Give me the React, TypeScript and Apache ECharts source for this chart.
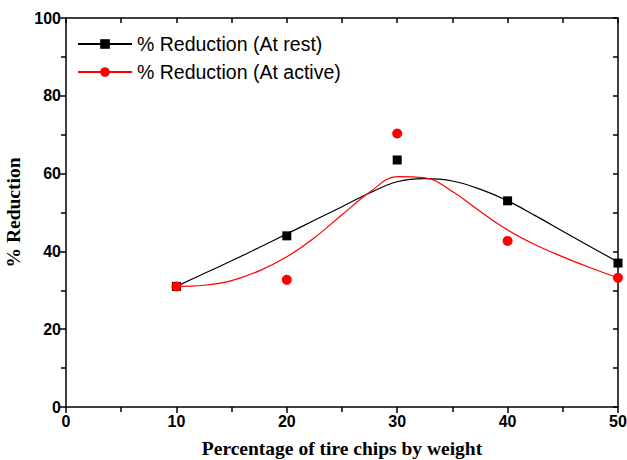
import React, { useEffect, useRef } from "react";
import * as echarts from "echarts";

const xValues = [10, 20, 30, 40, 50];
const restValues = [31, 44, 63.5, 53, 37];
const activeValues = [31, 32.7, 70.3, 42.7, 33.2];

// smooth fitted curves
const curveX = [10, 12.5, 15, 17.5, 20, 22.5, 25, 27.5, 30, 32.5, 35, 37.5, 40, 42.5, 45, 47.5, 50];
const restCurveY = [31, 34.3, 37.6, 41, 44.5, 48, 51.5, 55, 57.9, 58.7, 58.1, 56, 53, 49.2, 45.2, 41.2, 37.3];
const activeCurveY = [31, 31.3, 32.5, 35, 38.6, 43.5, 49.4, 55.2, 59.2, 58.9, 55.4, 50.3, 45.5, 41.7, 38.6, 35.8, 33.2];

const xTicks = [0, 10, 20, 30, 40, 50];
const yTicks = [0, 20, 40, 60, 80, 100];

const zip = (a: number[], b: number[]) => a.map((v, i) => [v, b[i]]);

export default function App() {
  const ref = useRef<HTMLDivElement>(null);
  useEffect(() => {
    if (!ref.current) return;
    const chart = echarts.init(ref.current, null, { renderer: "svg" });
    const axisLine = { show: true, onZero: false, lineStyle: { color: "#000", width: 1.5 } };
    const labelStyle = {
      color: "#000",
      fontFamily: "Liberation Sans, Arial, sans-serif",
      fontWeight: "bold" as const,
      fontSize: 16,
    };
    const titleStyle = {
      color: "#000",
      fontFamily: "Liberation Serif, Times New Roman, serif",
      fontWeight: "bold" as const,
      fontSize: 19.5,
    };
    chart.setOption({
      animation: false,
      backgroundColor: "#fff",
      grid: { left: 66, right: 9, top: 18, bottom: 53, containLabel: false, outerBoundsMode: "none" },
      legend: {
        left: 72,
        top: 29,
        orient: "vertical",
        itemWidth: 54,
        itemHeight: 12,
        itemGap: 8,
        data: ["% Reduction (At rest)", "% Reduction (At active)"],
        textStyle: {
          color: "#000",
          fontFamily: "Liberation Sans, Arial, sans-serif",
          fontSize: 19.5,
        },
      },
      xAxis: [
        {
          type: "value",
          min: xTicks[0],
          max: xTicks[xTicks.length - 1],
          interval: 10,
          position: "bottom",
          axisLine,
          axisTick: { show: true, inside: false, length: 6, lineStyle: { color: "#000", width: 1.5 } },
          minorTick: { show: true, splitNumber: 2, length: 5, lineStyle: { color: "#000", width: 1.5 } },
          splitLine: { show: false },
          axisLabel: { ...labelStyle, margin: 6 },
          name: "Percentage of tire chips by weight",
          nameLocation: "middle",
          nameGap: 31,
          nameTextStyle: titleStyle,
        },
        {
          type: "value",
          min: 0,
          max: 50,
          interval: 5,
          position: "top",
          axisLine,
          axisTick: { show: true, inside: true, length: 5, lineStyle: { color: "#000", width: 1.5 } },
          splitLine: { show: false },
          axisLabel: { show: false },
        },
      ],
      yAxis: [
        {
          type: "value",
          min: yTicks[0],
          max: yTicks[yTicks.length - 1],
          interval: 20,
          position: "left",
          axisLine,
          axisTick: { show: true, inside: false, length: 6, lineStyle: { color: "#000", width: 1.5 } },
          minorTick: { show: true, splitNumber: 2, length: 5, lineStyle: { color: "#000", width: 1.5 } },
          splitLine: { show: false },
          axisLabel: { ...labelStyle, margin: 5 },
          name: "% Reduction",
          nameLocation: "middle",
          nameGap: 37,
          nameTextStyle: titleStyle,
        },
        {
          type: "value",
          min: 0,
          max: 100,
          interval: 10,
          position: "right",
          axisLine,
          axisTick: { show: true, inside: true, length: 5, lineStyle: { color: "#000", width: 1.5 } },
          splitLine: { show: false },
          axisLabel: { show: false },
        },
      ],
      series: [
        {
          name: "% Reduction (At rest)",
          type: "line",
          smooth: 0.4,
          data: zip(curveX, restCurveY),
          showSymbol: false,
          symbol: "rect",
          symbolSize: 10,
          itemStyle: { color: "#000" },
          lineStyle: { color: "#000", width: 1.2 },
          z: 2,
        },
        {
          name: "% Reduction (At active)",
          type: "line",
          smooth: 0.4,
          data: zip(curveX, activeCurveY),
          showSymbol: false,
          symbol: "circle",
          symbolSize: 10,
          itemStyle: { color: "#ff0000" },
          lineStyle: { color: "#ff0000", width: 1.2 },
          z: 2,
        },
        {
          name: "rest points",
          type: "scatter",
          data: zip(xValues, restValues),
          symbol: "rect",
          symbolSize: 9,
          itemStyle: { color: "#000", opacity: 1 },
          z: 3,
        },
        {
          name: "active points",
          type: "scatter",
          data: zip(xValues, activeValues),
          symbol: "circle",
          symbolSize: 10,
          itemStyle: { color: "#ff0000", opacity: 1 },
          z: 4,
        },
      ],
    });
    return () => chart.dispose();
  }, []);
  return <div ref={ref} style={{ width: 627, height: 460, position: "absolute", left: 0, top: 0 }} />;
}
